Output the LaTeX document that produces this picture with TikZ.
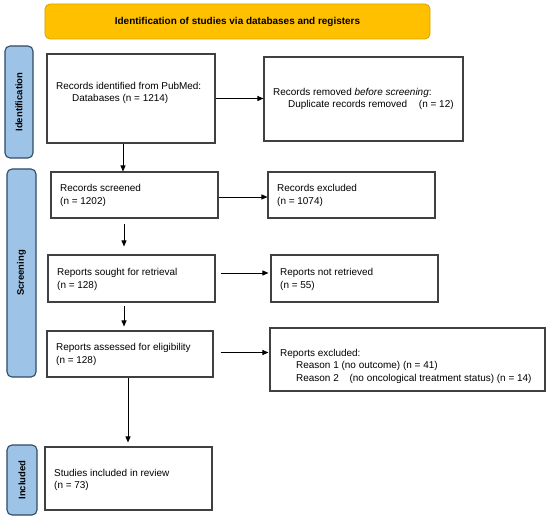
\documentclass[tikz,border=0pt]{standalone}
\usepackage{fontspec}
\setmainfont{Liberation Sans}
\usetikzlibrary{arrows.meta}
\definecolor{bannerfill}{HTML}{FFC000}
\definecolor{bannerdraw}{HTML}{D9A400}
\definecolor{tabfill}{HTML}{9DC3E6}
\definecolor{tabdraw}{HTML}{2F4B66}
\definecolor{boxdraw}{HTML}{404040}
\begin{document}
\begin{tikzpicture}[x=1bp,y=-1bp,
  font=\fontsize{10}{12.5}\selectfont,
  box/.style={draw=boxdraw, line width=1.1bp, fill=white, inner sep=0pt},
  tab/.style={draw=tabdraw, line width=1.1bp, fill=tabfill, rounded corners=5bp, inner sep=0pt,
    font=\fontsize{9.5}{11}\selectfont\bfseries},
  banner/.style={draw=bannerdraw, line width=0.8bp, fill=bannerfill, rounded corners=5bp, inner sep=0pt,
    font=\fontsize{10}{12}\selectfont\bfseries},
  txt/.style={anchor=west, align=left, inner sep=0pt},
  arr/.style={-{Triangle[length=6bp,width=5bp]}, line width=0.9bp, draw=black}]
\useasboundingbox (0,0) rectangle (550,518);
\fill[white] (0,0) rectangle (550,518);

% banner and side tabs
\node[banner, minimum width=385bp, minimum height=35bp] (ban) at (237.5,21.5)
  {Identification of studies via databases and registers};
\node[tab, minimum width=28bp, minimum height=112bp] (tabI) at (19,102)
  {\rotatebox{90}{Identification}};
\node[tab, minimum width=29bp, minimum height=208bp] (tabS) at (21.5,273)
  {\rotatebox{90}{Screening}};
\node[tab, minimum width=30bp, minimum height=70bp] (tabN) at (22,480)
  {\rotatebox{90}{Included}};

% boxes
\node[box, minimum width=168bp, minimum height=89bp] (b1) at (131,98.5) {};
\node[box, minimum width=199bp, minimum height=84bp] (b2) at (363.5,99) {};
\node[box, minimum width=167bp, minimum height=46bp] (b3) at (134.5,195) {};
\node[box, minimum width=167bp, minimum height=46bp] (b4) at (351.5,195) {};
\node[box, minimum width=167bp, minimum height=47bp] (b5) at (131.5,278.5) {};
\node[box, minimum width=167bp, minimum height=47bp] (b6) at (354.5,278.5) {};
\node[box, minimum width=166bp, minimum height=46bp] (b7) at (130,354) {};
\node[box, minimum width=275bp, minimum height=63bp] (b8) at (407.5,359.5) {};
\node[box, minimum width=167bp, minimum height=63bp] (b9) at (128.5,478.5) {};

% texts
\node[txt] (t1) at (56,93) {Records identified from PubMed:\\\hspace*{16bp}Databases (n = 1214)};
\node[txt] (t2) at (273,99) {Records removed \textit{before screening}:\\\hspace*{15bp}Duplicate records removed\hspace{9bp} (n = 12)};
\node[txt] (t3) at (60,195.5) {Records screened\\(n = 1202)};
\node[txt] (t4) at (277,195.5) {Records excluded\\(n = 1074)};
\node[txt] (t5) at (57,279.5) {Reports sought for retrieval\\(n = 128)};
\node[txt] (t6) at (280,279.5) {Reports not retrieved\\(n = 55)};
\node[txt] (t7) at (56,354.5) {Reports assessed for eligibility\\(n = 128)};
\node[txt] (t8) at (280,366) {Reports excluded:\\\hspace*{16bp}Reason 1 (no outcome) (n = 41)\\\hspace*{16bp}Reason 2\hspace{8bp} (no oncological treatment status) (n = 14)};
\node[txt] (t9) at (54,480) {Studies included in review\\(n = 73)};

% connectors
\draw[arr] (b1.east) -- (b1.east -| b2.west);
\draw[arr] ([xshift=-8bp]b1.south) -- ([xshift=-8bp]b1.south |- b3.north);
\draw[arr] ([yshift=-2bp]b3.east) -- ([yshift=-2bp]b3.east -| b4.west);
\draw[arr, shorten <=5bp, shorten >=8bp] ([xshift=-10.5bp]b3.south) -- ([xshift=-10.5bp]b3.south |- b5.north);
\draw[arr, shorten <=5bp, shorten >=2bp] ([yshift=5.5bp]b5.east) -- ([yshift=5.5bp]b5.east -| b6.west);
\draw[arr, shorten <=3bp, shorten >=4bp] ([xshift=-7.5bp]b5.south) -- ([xshift=-7.5bp]b5.south |- b7.north);
\draw[arr, shorten <=7bp, shorten >=1bp] ([yshift=1.5bp]b7.east) -- ([yshift=1.5bp]b7.east -| b8.west);
\draw[arr, shorten >=4bp] ([xshift=-2bp]b7.south) -- ([xshift=-2bp]b7.south |- b9.north);
\end{tikzpicture}
\end{document}
